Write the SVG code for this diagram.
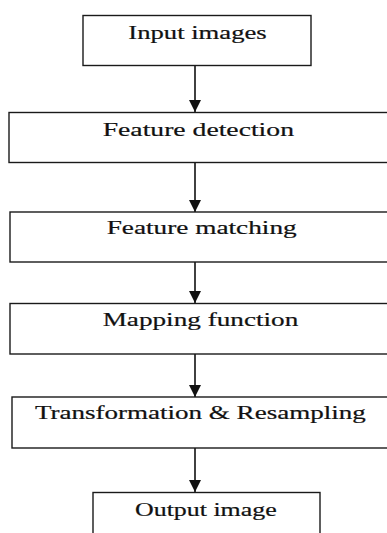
<svg xmlns="http://www.w3.org/2000/svg" width="387" height="533" viewBox="0 0 387 533">
<defs>
<style>
.box{fill:#fff;stroke:#1a1a1a;stroke-width:1.4}
.lbl{font-family:'Liberation Serif','DejaVu Serif',serif;font-size:18px;fill:#111;stroke:#111;stroke-width:0.2}
.conn{stroke:#111;stroke-width:1.6;fill:none;marker-end:url(#ah)}
</style>
<marker id="ah" viewBox="0 0 12 12" refX="12" refY="6" markerWidth="12" markerHeight="12" markerUnits="userSpaceOnUse" orient="auto">
<path d="M0,0 L12,6 L0,12 Z" fill="#111"/>
</marker>
</defs>
<rect width="387" height="533" fill="#fff"/>
<g id="connectors">
<line class="conn" x1="195" y1="66" x2="195" y2="112"/>
<line class="conn" x1="195" y1="163" x2="195" y2="212"/>
<line class="conn" x1="195" y1="262" x2="195" y2="303"/>
<line class="conn" x1="195" y1="354" x2="195" y2="397"/>
<line class="conn" x1="195" y1="448" x2="195" y2="492"/>
</g>
<g id="n1">
<rect class="box" x="83" y="15.5" width="228" height="50"/>
<text class="lbl" x="128.3" y="38.5" textLength="138.4" lengthAdjust="spacingAndGlyphs">Input images</text>
</g>
<g id="n2">
<rect class="box" x="9" y="112.5" width="390" height="50"/>
<text class="lbl" x="102.7" y="136.2" textLength="191.3" lengthAdjust="spacingAndGlyphs">Feature detection</text>
</g>
<g id="n3">
<rect class="box" x="10" y="212" width="390" height="50"/>
<text class="lbl" x="106.7" y="234.2" textLength="190" lengthAdjust="spacingAndGlyphs">Feature matching</text>
</g>
<g id="n4">
<rect class="box" x="10" y="303.5" width="390" height="50.5"/>
<text class="lbl" x="102.7" y="326.2" textLength="195.6" lengthAdjust="spacingAndGlyphs">Mapping function</text>
</g>
<g id="n5">
<rect class="box" x="12" y="397" width="390" height="51"/>
<text class="lbl" x="35" y="419.2" textLength="330.7" lengthAdjust="spacingAndGlyphs">Transformation &amp; Resampling</text>
</g>
<g id="n6">
<rect class="box" x="93" y="492.5" width="227" height="60"/>
<text class="lbl" x="135" y="515.5" textLength="141.7" lengthAdjust="spacingAndGlyphs">Output image</text>
</g>
</svg>
